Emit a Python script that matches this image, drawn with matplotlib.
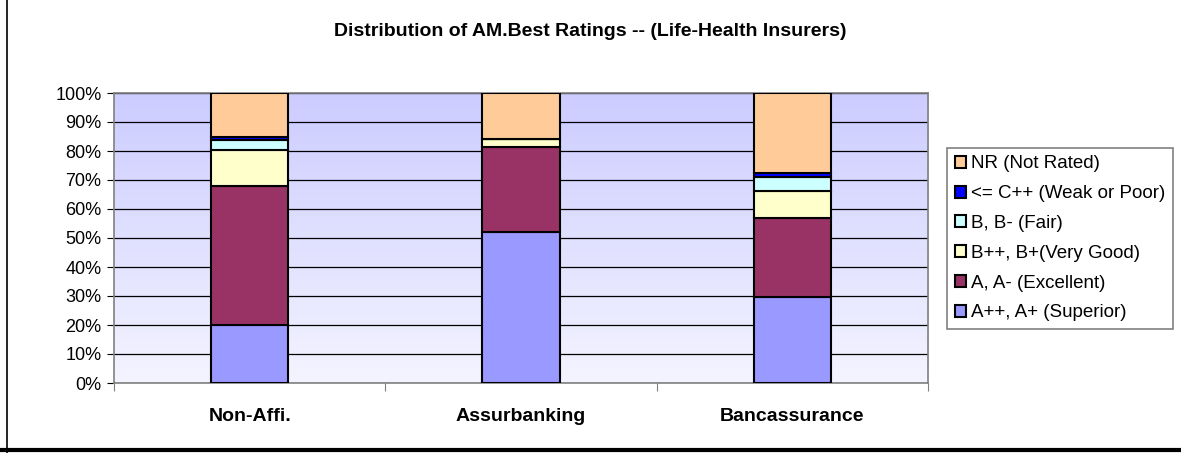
import matplotlib.pyplot as plt
import numpy as np
from matplotlib.colors import LinearSegmentedColormap
from matplotlib.lines import Line2D
from matplotlib.ticker import PercentFormatter

plt.rcParams['font.family'] = ['Liberation Sans', 'DejaVu Sans']

categories = ['Non-Affi.', 'Assurbanking', 'Bancassurance']
ratings = ['A++, A+ (Superior)', 'A, A- (Excellent)', 'B++, B+(Very Good)',
           'B, B- (Fair)', '<= C++ (Weak or Poor)', 'NR (Not Rated)']
colors = ['#9999FF', '#993366', '#FFFFCC', '#CCFFFF', '#0000FF', '#FFCC99']

# share of insurers in each rating class (%), bottom to top
superior = [20.0, 52.0, 29.5]
excellent = [48.0, 29.5, 27.3]
very_good = [12.3, 2.5, 9.4]
fair = [3.5, 0.0, 4.9]
weak = [1.2, 0.0, 1.4]
not_rated = [15.0, 16.0, 27.5]
series = [superior, excellent, very_good, fair, weak, not_rated]

fig = plt.figure(figsize=(11.81, 4.53), dpi=100)
ax = fig.add_axes([114/1181, 70/453, 814/1181, 290/453])

x = np.arange(len(categories))

# gradient plot background
cmap = LinearSegmentedColormap.from_list('bg', ['#F4F4FF', '#CCCCFF'])
ax.imshow(np.linspace(0, 1, 256).reshape(-1, 1), cmap=cmap, origin='lower',
          extent=[-0.5, 2.5, 0, 1], aspect='auto', zorder=0)

bottom = np.zeros(len(categories))
for name, vals, c in zip(ratings, series, colors):
    v = np.array(vals) / 100
    ax.bar(x, v, 0.285, bottom=bottom, color=c, edgecolor='black',
           linewidth=1.5, label=name, zorder=3)
    bottom += v

ax.set_xlim(-0.5, 2.5)
ax.set_ylim(0, 1)
ax.set_yticks(np.arange(0, 1.01, 0.1))
ax.yaxis.set_major_formatter(PercentFormatter(1.0, decimals=0))
ax.grid(axis='y', color='black', linewidth=0.9, zorder=1)
ax.set_axisbelow(True)

ax.set_xticks([-0.5, 0.5, 1.5, 2.5])
ax.set_xticklabels([])
ax.set_xticks(x, minor=True)
ax.set_xticklabels(categories, minor=True, fontsize=14, fontweight='bold')
ax.tick_params(axis='x', which='minor', length=0, pad=18)
ax.tick_params(axis='x', which='major', length=6, color='#808080')
ax.tick_params(axis='y', length=5, labelsize=13, pad=4)

for s in ax.spines.values():
    s.set_color('#808080')
    s.set_linewidth(1.2)

fig.text(0.5, 1 - 32/453, 'Distribution of AM.Best Ratings -- (Life-Health Insurers)',
         ha='center', va='center', fontsize=14, fontweight='bold')

h, l = ax.get_legend_handles_labels()
leg = fig.legend(h[::-1], l[::-1], loc='upper left',
                 bbox_to_anchor=(947/1181, 1 - 148/453), fontsize=13.5,
                 frameon=True, fancybox=False, framealpha=1, edgecolor='#808080',
                 handlelength=0.6, handleheight=0.6, handletextpad=0.3,
                 labelspacing=0.68, borderpad=0.4, borderaxespad=0)
leg.get_frame().set_linewidth(1.2)

# outer chart border
fig.add_artist(Line2D([7/1181, 7/1181], [0, 1], color='black', linewidth=1.2))
fig.add_artist(Line2D([0, 1], [3/453, 3/453], color='black', linewidth=3))

fig.savefig('out.png', dpi=100)
